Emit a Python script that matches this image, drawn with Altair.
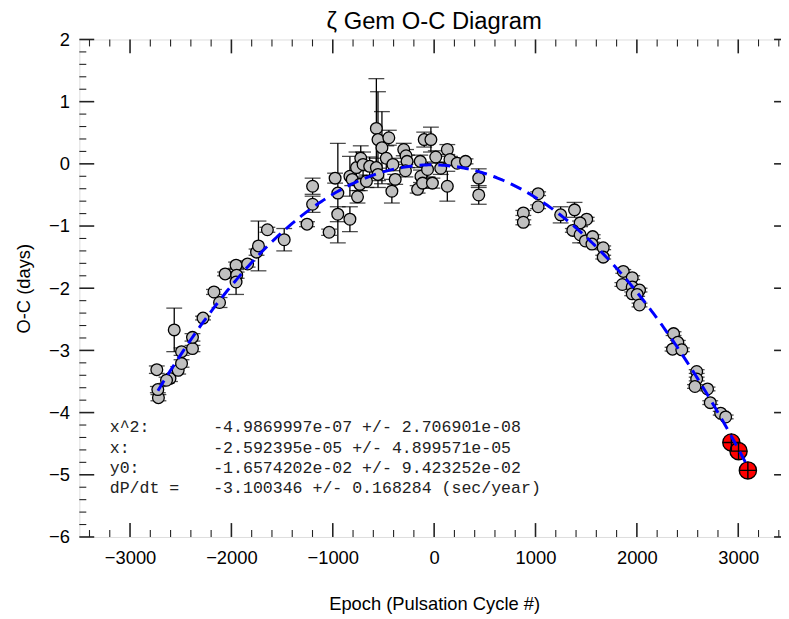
import altair as alt
import pandas as pd
import numpy as np

# ---- data ----
epoch = [-2720, -2726, -2736, -2606, -2640, -2525, -2492, -2492, -2384, -2384,
         -2564, -2280, -2117, -2172, -2062, -1954, -1948, -1954, -1840, -1752,
         -1733, -1645, -1479, -1254, -1199, -1199, -1036,
         -977, -950, -951, -831, -831, -808, -766, -756, -733, -724, -701, -668,
         -636, -570, -554, -515, -570, -554, -472, -447, -407, -384, -417,
         -300, -277, -267, -283, -163, -130, -137, -98, -32, -65, -114, -17,
         16, 65, 130, 130, 156, 228, 310, 440, 440,
         880, 880, 1026, 1026, 1248, 1385, 1505, 1440, 1368, 1440, 1492, 1564,
         1557, 1668, 1668, 1866, 1954, 1857, 1954, 1954, 2026, 2003, 2026,
         2362, 2404, 2352, 2443, 2590, 2590, 2573, 2697, 2724, 2827, 2876]
oc = [-3.76, -3.63, -3.31, -3.45, -3.48, -3.32, -3.21, -3.02, -2.97, -2.79,
      -2.67, -2.48, -2.23, -2.06, -1.77, -1.63, -1.79, -1.90, -1.61, -1.42,
      -1.32, -1.06, -1.22, -0.97, -0.65, -0.36, -1.10,
      -0.23, -0.47, -0.81, -0.89, -0.20, -0.25, -0.06, -0.53, -0.33, 0.09, -0.01, -0.28,
      -0.04, 0.57, 0.39, 0.26, -0.06, -0.17, 0.09, 0.42, -0.01, -0.25, -0.44,
      0.23, 0.13, 0.04, -0.11, -0.41, -0.20, 0.04, 0.39, 0.39, -0.09, -0.31, -0.31,
      0.11, -0.07, 0.23, -0.36, 0.07, 0.01, 0.04, -0.23, -0.50,
      -0.79, -0.94, -0.48, -0.69, -0.82, -0.74, -0.89, -0.95, -1.07, -1.14, -1.24, -1.17,
      -1.29, -1.35, -1.50, -1.73, -1.83, -1.94, -1.98, -2.09, -2.03, -2.10, -2.27,
      -2.73, -2.87, -2.98, -2.99, -3.34, -3.46, -3.58, -3.62, -3.84, -4.01, -4.07]
err = [0.05, 0.05, 0.06, 0.05, 0.05, 0.06, 0.06, 0.06, 0.05, 0.06,
       0.35, 0.03, 0.08, 0.04, 0.03, 0.05, 0.05, 0.20, 0.05, 0.05,
       0.40, 0.04, 0.18, 0.04, 0.13, 0.13, 0.05,
       0.08, 0.80, 0.12, 0.20, 0.32, 0.10, 0.25, 0.10, 0.10, 0.20, 0.20, 0.10,
       0.15, 0.80, 0.77, 0.58, 0.15, 0.10, 0.20, 0.12, 0.10, 0.08, 0.19,
       0.10, 0.10, 0.10, 0.10, 0.06, 0.10, 0.10, 0.12, 0.20, 0.12, 0.08, 0.08,
       0.10, 0.10, 0.08, 0.24, 0.05, 0.04, 0.04, 0.15, 0.15,
       0.04, 0.04, 0.03, 0.03, 0.13, 0.12, 0.03, 0.03, 0.03, 0.13, 0.03, 0.03,
       0.03, 0.03, 0.03, 0.03, 0.03, 0.03, 0.03, 0.03, 0.03, 0.03, 0.03,
       0.03, 0.03, 0.03, 0.03, 0.03, 0.03, 0.03, 0.03, 0.03, 0.03, 0.03]

red_epoch = [2932, 3003, 3095]
red_oc = [-4.48, -4.62, -4.93]
red_err = [0.02, 0.02, 0.02]

# quadratic fit coefficients shown on the chart
fit_a, fit_b, fit_c = -4.9869997e-07, -2.592395e-05, -1.6574202e-02
fit_range = [-2725, 3100]

fit_labels = ["x^2:", "x:", "y0:", "dP/dt ="]
fit_values = ["-4.9869997e-07 +/- 2.706901e-08",
              "-2.592395e-05 +/- 4.899571e-05",
              "-1.6574202e-02 +/- 9.423252e-02",
              "-3.100346 +/- 0.168284 (sec/year)"]
fit_rows = [-4.24, -4.565, -4.89, -5.215]

x_major = [-3000, -2000, -1000, 0, 1000, 2000, 3000]
x_minor = [v for v in range(-3400, 3500, 200) if v % 1000 != 0]
y_major = [-6, -5, -4, -3, -2, -1, 0, 1, 2]
y_minor = [round(v * 0.2, 1) for v in range(-29, 10) if v % 5 != 0]

# ---- build ----
W, H = 716, 502
FONT = "Liberation Sans"
xs = alt.Scale(domain=[-3500, 3500], nice=False, zero=False)
ys = alt.Scale(domain=[-6, 2], nice=False, zero=False)

AX = alt.Axis(values=x_major, ticks=False, domain=False, grid=False, labelFont=FONT,
              labelFontSize=18.5, labelPadding=12, labelColor="black",
              title="Epoch (Pulsation Cycle #)", titleFont=FONT, titleFontSize=18.5,
              titleFontWeight="normal", titlePadding=28, titleColor="black", format="d")
AY = alt.Axis(values=y_major, ticks=False, domain=False, grid=False, labelFont=FONT,
              labelFontSize=18.5, labelPadding=10, labelColor="black",
              title="O-C (days)", titleFont=FONT, titleFontSize=18.5,
              titleFontWeight="normal", titlePadding=15, titleColor="black", format="d")


def ex(field):
    return alt.X(field, scale=xs, axis=AX)


def ey(field):
    return alt.Y(field, scale=ys, axis=AY)


df = pd.DataFrame({"epoch": epoch, "oc": oc, "err": err})
df["lo"] = df["oc"] - df["err"]
df["hi"] = df["oc"] + df["err"]
dfr = pd.DataFrame({"epoch": red_epoch, "oc": red_oc, "err": red_err})
dfr["lo"] = dfr["oc"] - dfr["err"]
dfr["hi"] = dfr["oc"] + dfr["err"]
both = pd.concat([df, dfr])

fx = np.linspace(fit_range[0], fit_range[1], 300)
dff = pd.DataFrame({"epoch": fx, "oc": fit_a * fx ** 2 + fit_b * fx + fit_c})

bars = alt.Chart(both).mark_rule(color="black", strokeWidth=1.3).encode(
    x=ex("epoch:Q"), y=ey("lo:Q"), y2="hi:Q")
cap_lo = alt.Chart(both).mark_tick(color="black", orient="horizontal", size=16, thickness=1.3).encode(
    x=ex("epoch:Q"), y=ey("lo:Q"))
cap_hi = alt.Chart(both).mark_tick(color="black", orient="horizontal", size=16, thickness=1.3).encode(
    x=ex("epoch:Q"), y=ey("hi:Q"))

pts = alt.Chart(df).mark_point(shape="circle", filled=True, fill="#c0c0c0", stroke="black",
                               strokeWidth=1.3, size=140, opacity=1).encode(x=ex("epoch:Q"), y=ey("oc:Q"))
rpts = alt.Chart(dfr).mark_point(shape="circle", filled=True, fill="#ff0000", stroke="black",
                                 strokeWidth=1.4, size=300, opacity=1).encode(x=ex("epoch:Q"), y=ey("oc:Q"))
rcross = alt.Chart(dfr).mark_point(shape="M-1,0L1,0M0,-1L0,1", filled=False, stroke="black",
                                   strokeWidth=1.4, size=300, opacity=1).encode(x=ex("epoch:Q"), y=ey("oc:Q"))

fit = alt.Chart(dff).mark_line(color="#0000ff", strokeWidth=3, strokeDash=[12, 7]).encode(
    x=ex("epoch:Q"), y=ey("oc:Q"), order="epoch:Q")

tdf = pd.DataFrame({"lab": fit_labels, "val": fit_values, "oc": fit_rows,
                    "lx": [-3200] * 4, "vx": [-2180] * 4})
tlab = alt.Chart(tdf).mark_text(align="left", baseline="middle", font="Liberation Mono",
                                fontSize=16.7, color="#222").encode(
    x=ex("lx:Q"), y=ey("oc:Q"), text="lab:N")
tval = alt.Chart(tdf).mark_text(align="left", baseline="middle", font="Liberation Mono",
                                fontSize=16.7, color="#222").encode(
    x=ex("vx:Q"), y=ey("oc:Q"), text="val:N")


def tick_x(vals, y0, y1, w):
    return alt.Chart(pd.DataFrame({"epoch": vals})).mark_rule(color="#222", strokeWidth=w).encode(
        x=ex("epoch:Q"), y=alt.value(y0), y2=alt.value(y1))


def tick_y(vals, x0, x1, w):
    return alt.Chart(pd.DataFrame({"oc": vals})).mark_rule(color="#222", strokeWidth=w).encode(
        y=ey("oc:Q"), x=alt.value(x0), x2=alt.value(x1))


ticks = [
    tick_x(x_major, H, H - 14, 1.6), tick_x(x_minor, H, H - 7, 1.1),
    tick_x(x_major, 0, 14, 1.6), tick_x(x_minor, 0, 7, 1.1),
    tick_y(y_major, 0, 15, 1.6), tick_y(y_minor, 0, 7, 1.1),
    tick_y(y_major, W, W - 15, 1.6), tick_y(y_minor, W, W - 7, 1.1),
]

chart = alt.layer(bars, cap_lo, cap_hi, pts, rpts, rcross, fit, tlab, tval, *ticks).properties(
    width=W, height=H,
    title=alt.TitleParams("ζ Gem O-C Diagram", font=FONT, fontSize=24, fontWeight="normal",
                          anchor="middle", offset=-3, color="black"),
    autosize=alt.AutoSizeParams(type="none"),
    padding={"left": 72, "top": 29, "right": -8, "bottom": 78},
).configure_view(stroke="#222", strokeWidth=1.5).configure(background="white")

chart.save("out.html", embed_options={"renderer": "svg", "actions": False})
